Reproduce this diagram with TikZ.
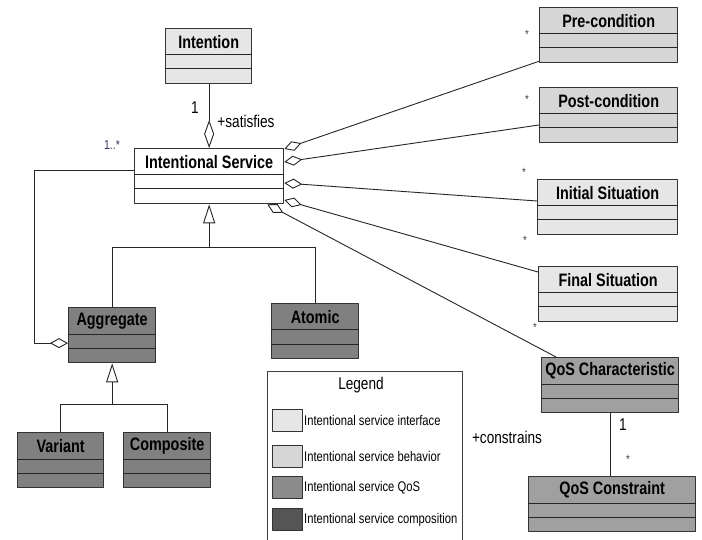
\documentclass[tikz,border=0pt]{standalone}
\usepackage{fontspec}
\setmainfont{Liberation Sans}[FakeStretch=0.8]
\usetikzlibrary{arrows.meta,calc,positioning}
\definecolor{interfacegray}{HTML}{E6E6E6}
\definecolor{behaviorgray}{HTML}{D6D6D6}
\definecolor{qosgray}{HTML}{A0A0A0}
\definecolor{compgray}{HTML}{808080}
\definecolor{legqos}{HTML}{8C8C8C}
\definecolor{legcomp}{HTML}{555555}
\definecolor{multblue}{HTML}{33335C}

\newcommand{\umlclass}[5]{% name, top left, width, fill, title
	\node[classbox,fill=#4,minimum width=#3pt] (#1) at #2 {};
	\node[classtitle] (#1-title) at ($(#1.north)+(0,14)$) {#5};
	\draw[compline] ($(#1.north west)+(0,27)$) -- ($(#1.north east)+(0,27)$);
	\draw[compline] ($(#1.north west)+(0,41)$) -- ($(#1.north east)+(0,41)$);
}

\begin{document}
\begin{tikzpicture}[x=1pt, y=-1pt, line join=round,
	classbox/.style={draw=black!80, line width=1.3pt, anchor=north west, minimum height=55pt, inner sep=0pt},
	classtitle/.style={font=\fontsize{18}{20}\selectfont\bfseries, inner sep=0pt},
	compline/.style={black!85, line width=1pt},
	assoc/.style={black!85, line width=0.9pt},
	agg/.style={assoc, {Diamond[open, length=18pt, width=10pt]}-},
	gen/.style={assoc, {Triangle[open, length=19pt, width=12pt]}-},
	mult/.style={font=\fontsize{17}{19}\selectfont, inner sep=0pt},
	star/.style={font=\fontsize{12}{13}\selectfont, text=black!75, inner sep=0pt},
	role/.style={font=\fontsize{17}{19}\selectfont, inner sep=0pt},
	swatch/.style={draw=black!80, line width=1pt, anchor=north west, minimum width=30pt, minimum height=22pt, inner sep=0pt},
	legtext/.style={font=\fontsize{14}{16}\selectfont, inner sep=0pt, anchor=west}]
	\useasboundingbox (0,0) rectangle (702,540);
	\fill[white] (0,0) rectangle (702,540);

	\umlclass{intention}{(165,28)}{86}{interfacegray}{Intention}
	\umlclass{is}{(134,148)}{149}{white}{Intentional Service}
	\umlclass{pre}{(539,7)}{138}{behaviorgray}{Pre-condition}
	\umlclass{post}{(539,87)}{138}{behaviorgray}{Post-condition}
	\umlclass{init}{(537,179)}{140}{interfacegray}{Initial Situation}
	\umlclass{final}{(538,266)}{139}{interfacegray}{Final Situation}
	\umlclass{agg}{(68,307)}{87}{compgray}{Aggregate}
	\umlclass{atomic}{(271,303)}{87}{compgray}{Atomic}
	\umlclass{variant}{(17,432)}{86}{compgray}{Variant}
	\umlclass{composite}{(123,432)}{87}{compgray}{Composite}
	\umlclass{qoschar}{(541,357)}{137}{qosgray}{QoS Characteristic}
	\umlclass{qoscons}{(528,476)}{167}{qosgray}{QoS Constraint}

	\draw[assoc,{Diamond[open, length=28pt, width=10pt]}-] (is.north) -- (is.north |- intention.south);
	\node[mult] (m-int) at (195,108) {1};
	\node[role] (r-sat) at (246,121) {+satisfies};
	\node[font=\fontsize{13}{15}\selectfont, text=multblue, inner sep=0pt] (m-agg) at (112,145) {1..*};

	\draw[agg] ($(is.north east)+(0,1)$) -- ($(pre.south west)+(0,-2)$);
	\draw[agg] ($(is.north east)+(0,14)$) -- ($(post.north west)+(0,38)$);
	\draw[agg] ($(is.north east)+(0,35)$) -- ($(init.north west)+(0,22)$);
	\draw[agg] ($(is.north east)+(0,52)$) -- ($(final.north west)+(0,6)$);
	\draw[agg] ($(is.south east)+(-17,0)$) -- ($(qoschar.north west)+(15,0)$);
	\node[star] (s-pre) at (527,34) {*};
	\node[star] (s-post) at (527,99) {*};
	\node[star] (s-init) at (524,172) {*};
	\node[star] (s-final) at (525,240) {*};
	\node[star] (s-qos) at (535,327) {*};

	\draw[agg] ($(agg.west)+(0,8)$) -- ++(-34,0) |- ($(is.west)+(0,-6)$);

	\coordinate (isjoin) at ($(is.south)+(0,43)$);
	\draw[gen] (is.south) -- (isjoin);
	\draw[assoc] (agg.north) |- (isjoin) -| (atomic.north);
	\coordinate (aggjoin) at ($(agg.south)+(0,41)$);
	\draw[gen] (agg.south) -- (aggjoin);
	\draw[assoc] (variant.north) |- (aggjoin) -| (composite.north);

	\draw[assoc] (qoschar.south) -- (qoschar.south |- qoscons.north);
	\node[mult] (m-qos) at (623,425) {1};
	\node[star] (s-cons) at (628,459) {*};
	\node[role] (r-con) at (507,437) {+constrains};

	\node[draw=black!75, line width=1.2pt, anchor=north west, minimum width=195pt, minimum height=200pt, inner sep=0pt] (legendbox) at (267,371) {};
	\node[font=\fontsize{17}{19}\selectfont, inner sep=0pt] (legend) at (361,385) {Legend};
	\node[swatch, fill=interfacegray] (sw1) at (272,409) {};
	\node[swatch, fill=behaviorgray] (sw2) at (272,445) {};
	\node[swatch, fill=legqos] (sw3) at (272,476) {};
	\node[swatch, fill=legcomp] (sw4) at (272,508) {};
	\node[legtext, right=1pt of sw1] (lt1) {Intentional service interface};
	\node[legtext, right=1pt of sw2] (lt2) {Intentional service behavior};
	\node[legtext, right=1pt of sw3] (lt3) {Intentional service QoS};
	\node[legtext, right=1pt of sw4] (lt4) {Intentional service composition};
\end{tikzpicture}
\end{document}
